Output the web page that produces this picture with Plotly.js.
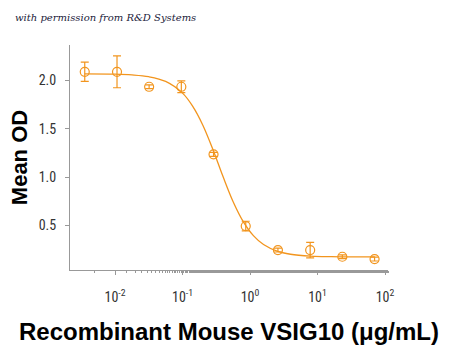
<!DOCTYPE html>
<html>
<head>
<meta charset="utf-8">
<script src="https://cdn.plot.ly/plotly-3.0.1.min.js"></script>
<style>html,body{margin:0;padding:0;background:#fff;}#chart{width:450px;height:347px;}</style>
</head>
<body>
<div id="chart"></div>
<script>
// Measured points
const concentration = [0.00356, 0.0107, 0.032, 0.096, 0.288, 0.864, 2.59, 7.78, 23.3, 70];
const meanOD = [2.09, 2.09, 1.935, 1.935, 1.236, 0.494, 0.246, 0.246, 0.177, 0.153];
const errorOD = [0.10, 0.165, 0.02, 0.06, 0.02, 0.05, 0.02, 0.08, 0.02, 0.02];

// Fitted curve
const curveX = [0.00355, 0.01, 0.0178, 0.0316, 0.0562, 0.1, 0.141, 0.2, 0.282, 0.398, 0.562, 0.794, 1.122, 1.585, 2.512, 3.98, 7.94, 15.85, 31.6, 70.8];
const curveY = [2.069, 2.066, 2.058, 2.039, 1.990, 1.869, 1.735, 1.538, 1.286, 1.006, 0.746, 0.540, 0.395, 0.303, 0.235, 0.203, 0.184, 0.178, 0.176, 0.175];

const xTickVals = [0.01, 0.1, 1, 10, 100];
const xTickText = ['10<sup>-2</sup>', '10<sup>-1</sup>', '10<sup>0</sup>', '10<sup>1</sup>', '10<sup>2</sup>'];
const yTickVals = [0.5, 1.0, 1.5, 2.0];
const yTickText = ['0.5', '1.0', '1.5', '2.0'];

const orange = '#F2951E';

const traces = [
  {
    x: curveX, y: curveY, type: 'scatter', mode: 'lines',
    line: {color: orange, width: 1.3, shape: 'spline', smoothing: 1},
    hoverinfo: 'skip', showlegend: false
  },
  {
    x: concentration, y: meanOD, type: 'scatter', mode: 'markers',
    marker: {symbol: 'circle-open', size: 9, color: orange, line: {width: 1.2, color: orange}},
    error_y: {type: 'data', array: errorOD, visible: true, color: orange, thickness: 1.2, width: 4},
    showlegend: false
  }
];

const tickFont = {family: '"Liberation Sans Narrow", "Roboto Condensed", "DejaVu Sans Condensed", "Liberation Sans", sans-serif', size: 14, color: '#333', stretch: 'condensed'};

const layout = {
  width: 450, height: 347,
  margin: {l: 70, r: 62, t: 45, b: 77},
  paper_bgcolor: '#fff', plot_bgcolor: '#fff',
  showlegend: false,
  xaxis: {
    type: 'log',
    range: [-2.667, 2.044],
    tickvals: xTickVals, ticktext: xTickText,
    ticks: 'outside', ticklen: 4, tickcolor: '#999', tickwidth: 1,
    minor: {ticks: 'outside', ticklen: 2, tickcolor: '#999', showgrid: false},
    showline: true, linecolor: '#999', linewidth: 1,
    showgrid: false, zeroline: false,
    tickfont: tickFont, ticklabelstandoff: 10,
    title: {text: 'Recombinant Mouse VSIG10 (μg/mL)', font: {family: 'Liberation Sans, Arial, sans-serif', size: 24, color: '#000', weight: 'bold'}, standoff: 19}
  },
  yaxis: {
    range: [0.04, 2.367],
    tickvals: yTickVals, ticktext: yTickText,
    ticks: 'outside', ticklen: 4, tickcolor: '#999', tickwidth: 1,
    showline: true, linecolor: '#999', linewidth: 1,
    showgrid: false, zeroline: false,
    tickfont: tickFont, ticklabelstandoff: 6,
    title: {text: 'Mean OD', font: {family: 'Liberation Sans, Arial, sans-serif', size: 22, color: '#000', weight: 'bold'}, standoff: 4}
  },
  annotations: [{
    xref: 'paper', yref: 'paper', x: -0.18, y: 1.124, xanchor: 'left', yanchor: 'middle',
    text: '<i>with permission from R&amp;D Systems</i>', showarrow: false,
    font: {family: '"DejaVu Serif", "Liberation Serif", serif', size: 10, color: '#1a1a3a'}
  }]
};

Plotly.newPlot('chart', traces, layout, {displayModeBar: false, staticPlot: true});
</script>
</body>
</html>
